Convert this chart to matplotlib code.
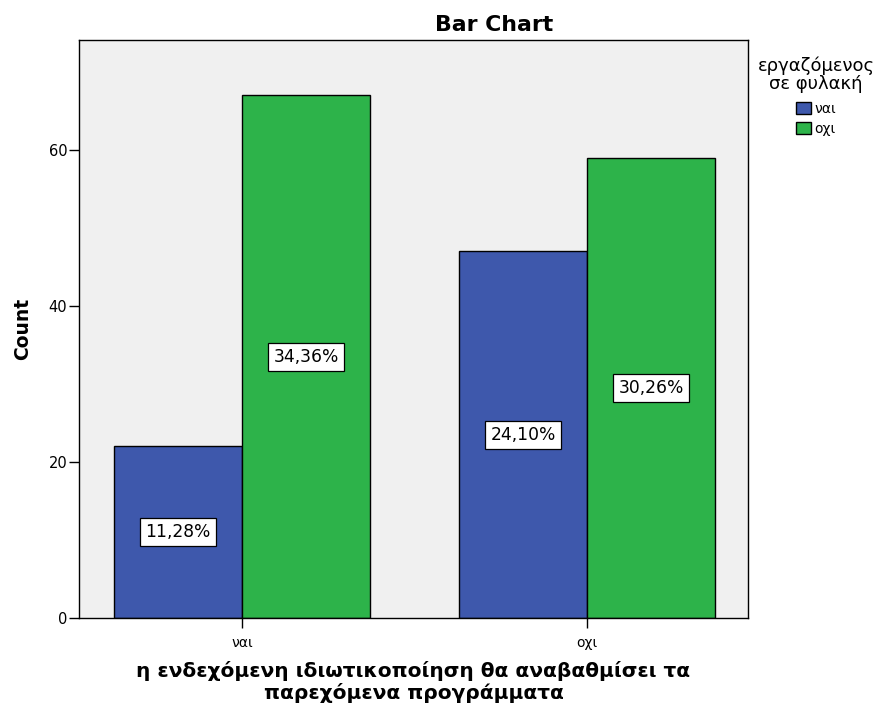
import numpy as np
import matplotlib.pyplot as plt
from matplotlib.patches import Patch

plt.rcParams['font.family'] = ['DejaVu Sans']

categories = ['ναι', 'οχι']
series_names = ['ναι', 'οχι']
counts_yes = [22, 47]   # series "ναι"
counts_no = [67, 59]    # series "οχι"
pct_labels_yes = ['11,28%', '24,10%']
pct_labels_no = ['34,36%', '30,26%']

colors = ['#3E58AC', '#2DB34A']

fig = plt.figure(figsize=(8.77, 7.07), dpi=100)
ax = fig.add_axes([0.0901, 0.1259, 0.7628, 0.8175])
ax.set_facecolor('#F0F0F0')

x = np.arange(len(categories))
w = 0.371
b1 = ax.bar(x - w / 2, counts_yes, w, color=colors[0], edgecolor='black', linewidth=1)
b2 = ax.bar(x + w / 2, counts_no, w, color=colors[1], edgecolor='black', linewidth=1)

box = dict(boxstyle='square,pad=0.3', facecolor='white', edgecolor='black', linewidth=0.9)
for bars, labels in ((b1, pct_labels_yes), (b2, pct_labels_no)):
    for bar, lab in zip(bars, labels):
        ax.text(bar.get_x() + bar.get_width() / 2, bar.get_height() / 2, lab,
                ha='center', va='center', fontsize=12.3, bbox=box)

ax.set_xlim(-0.4725, 1.466)
ax.set_ylim(0, 74.1)
ax.set_yticks([0, 20, 40, 60])
ax.set_xticks(x)
ax.set_xticklabels(categories, fontsize=10)
ax.tick_params(axis='y', labelsize=10.5, length=7, width=1, pad=1.5)
ax.tick_params(axis='x', length=7, width=1, pad=6)
for s in ax.spines.values():
    s.set_linewidth(1)

fig.text(494 / 877, 1 - 25 / 707, 'Bar Chart', ha='center', va='center',
         fontsize=15.8, fontweight='bold')
ax.set_ylabel('Count', fontsize=13.5, fontweight='bold', labelpad=12)
ax.set_xlabel('η ενδεχόμενη ιδιωτικοποίηση θα αναβαθμίσει τα\nπαρεχόμενα προγράμματα',
              fontsize=14.5, fontweight='bold', labelpad=8, linespacing=1.13)

handles = [Patch(facecolor=c, edgecolor='black', label=n) for c, n in zip(colors, series_names)]
leg = fig.legend(handles=handles, title='εργαζόμενος\nσε φυλακή', loc='upper center',
                 bbox_to_anchor=(816 / 877, 1 - 47 / 707), frameon=False, fontsize=10,
                 title_fontsize=13, handlelength=1.1, handleheight=1.0,
                 handletextpad=0.2, labelspacing=0.45, borderpad=0.2)
leg.get_title().set_multialignment('center')
leg.get_title().set_linespacing(1.0)
leg._legend_box.sep = 6

fig.savefig('out.png', dpi=100)
